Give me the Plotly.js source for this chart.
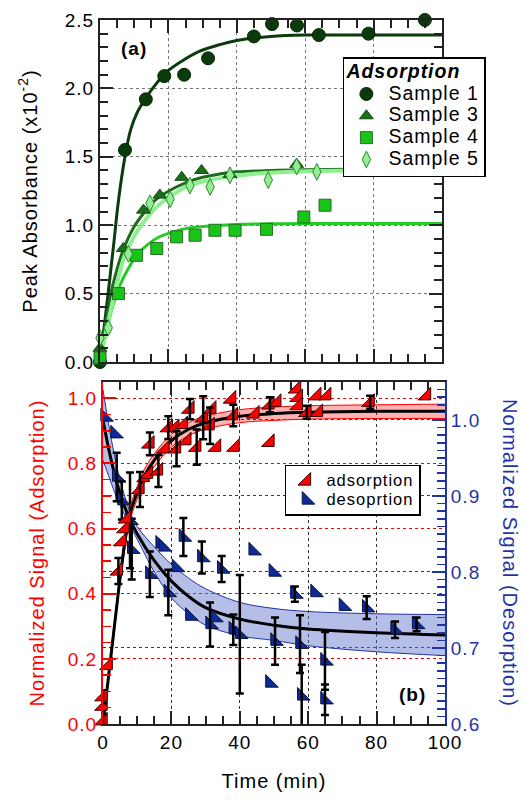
<!DOCTYPE html>
<html><head><meta charset="utf-8">
<script src="https://cdn.plot.ly/plotly-3.0.1.min.js"></script>
<style>html,body{margin:0;padding:0;background:#fff} svg text{letter-spacing:1px}</style>
</head><body><div id="chart" style="width:524px;height:801px"></div>
<script>
// ---------- Panel (a): peak absorbance (x10^-2) ----------
const s1Time = [0, 7.3, 13.4, 18.8, 24.6, 31.6, 45, 50.3, 57.6, 64, 78.5, 95];
const s1Abs  = [0.0, 1.55, 1.92, 2.09, 2.10, 2.22, 2.38, 2.47, 2.46, 2.39, 2.40, 2.50];
const s3Time = [0, 6.8, 12.7, 17.5, 23.9, 29.7, 38, 57.5];
const s3Abs  = [0.1, 0.83, 1.11, 1.22, 1.35, 1.40, 1.37, 1.445];
const s4Time = [0, 5.4, 10.7, 16.6, 22.4, 27.8, 33.6, 39.5, 48.7, 59.6, 65.8];
const s4Abs  = [0.03, 0.50, 0.78, 0.83, 0.915, 0.927, 0.963, 0.963, 0.97, 1.06, 1.146];
const s5Time = [0, 2.4, 8.3, 14.6, 20.5, 26.3, 32.2, 38, 49.2, 57.5, 63.4];
const s5Abs  = [0.175, 0.25, 0.79, 1.16, 1.19, 1.29, 1.28, 1.365, 1.33, 1.43, 1.39];

// fitted curves
const s1FitTime = [0, 2, 4, 5.4, 7.3, 9, 11, 13.4, 16, 19.5, 24, 29, 35, 40, 50, 60, 80, 100];
const s1FitAbs  = [0, 0.42, 0.86, 1.18, 1.5, 1.7, 1.83, 1.93, 2.02, 2.12, 2.2, 2.27, 2.32, 2.35, 2.38, 2.39, 2.39, 2.39];
const s3FitTime = [0, 1, 3, 5, 6.8, 10, 12.7, 16, 20.5, 25, 30, 35, 40, 50, 60, 80, 100];
const s3FitAbs  = [0, 0.18, 0.48, 0.68, 0.82, 0.99, 1.085, 1.18, 1.255, 1.31, 1.35, 1.375, 1.39, 1.40, 1.405, 1.41, 1.41];
const s4FitTime = [0, 2, 4, 6, 8, 10.7, 14, 17, 20, 25, 30, 40, 50, 60, 80, 100];
const s4FitAbs  = [0, 0.24, 0.43, 0.57, 0.67, 0.78, 0.86, 0.91, 0.94, 0.975, 0.99, 1.005, 1.01, 1.012, 1.012, 1.012];
const s5FitTime = [0, 2, 4, 6.8, 10, 12.7, 16, 20.5, 26, 32, 38, 47, 60, 80, 100];
const s5FitAbs  = [0, 0.25, 0.47, 0.745, 0.92, 1.02, 1.12, 1.21, 1.29, 1.33, 1.355, 1.38, 1.395, 1.40, 1.40];

// ---------- Panel (b): normalized signals ----------
const adsTime   = [0, 0, 0, 1.5, 4.5, 5.5, 6.4, 6.9, 10.8, 12.3, 13.3, 13.7, 16.2, 18.1, 19.1, 21, 21.5, 23.5, 24.5, 25.4, 27.4, 29.3, 31.3, 31.8, 33.2, 37.6, 38.1, 38.6, 44.4, 48.8, 48.8, 50.8, 56.6, 57.1, 57.1, 59.6, 62.5, 63, 65.4, 78.1, 94.6];
const adsSignal = [0.01, 0.055, 0.084, 0.18, 0.47, 0.56, 0.60, 0.63, 0.72, 0.757, 0.767, 0.86, 0.777, 0.845, 0.91, 0.91, 0.845, 0.92, 0.87, 0.967, 0.85, 0.94, 0.916, 0.967, 0.85, 0.998, 0.947, 0.85, 0.952, 0.865, 0.98, 0.988, 1.029, 1.003, 0.978, 0.957, 1.008, 0.957, 1.008, 0.988, 1.008];
const adsErr    = [0.02, 0, 0.02, 0, 0.04, 0, 0, 0, 0.054, 0, 0, 0.035, 0.049, 0, 0.035, 0, 0.054, 0, 0, 0.031, 0.054, 0.066, 0.056, 0, 0, 0, 0.033, 0, 0, 0, 0.023, 0, 0, 0, 0, 0.02, 0, 0, 0, 0.02, 0];

const desTime   = [0.6, 3.5, 4, 5.5, 7.9, 8.4, 13.7, 16.7, 17.6, 19.1, 21.5, 23.5, 25.4, 28.9, 31.3, 32.7, 34.7, 38.1, 40, 43.9, 48.8, 49.8, 50.3, 56.1, 57.6, 58.1, 62, 64.9, 64.9, 70.3, 77.1, 85.4, 91.7];
const desSignal = [1.004, 0.982, 0.925, 0.894, 0.868, 0.83, 0.797, 0.837, 0.833, 0.773, 0.806, 0.846, 0.742, 0.819, 0.731, 0.74, 0.804, 0.724, 0.718, 0.828, 0.654, 0.80, 0.709, 0.771, 0.705, 0.637, 0.773, 0.683, 0.632, 0.755, 0.753, 0.724, 0.731];
const desErr    = [0, 0, 0.032, 0.025, 0.063, 0.04, 0.03, 0, 0, 0.03, 0, 0.025, 0, 0.021, 0.029, 0, 0.017, 0.02, 0.078, 0, 0, 0, 0.031, 0.01, 0.038, 0.041, 0, 0.038, 0.02, 0, 0.015, 0.011, 0.009];

const adsFitTime = [0, 1, 2, 3, 4, 5, 6, 7, 8, 10, 12, 15, 20, 25, 30, 40, 50, 60, 80, 100];
const adsFit     = [0, 0.09, 0.18, 0.27, 0.36, 0.45, 0.53, 0.6, 0.65, 0.71, 0.76, 0.81, 0.87, 0.905, 0.925, 0.945, 0.953, 0.957, 0.96, 0.96];
const adsUpper   = [0.01, 0.1, 0.19, 0.285, 0.375, 0.465, 0.55, 0.62, 0.67, 0.73, 0.78, 0.83, 0.89, 0.925, 0.945, 0.965, 0.973, 0.977, 0.98, 0.982];
const adsLower   = [0, 0.08, 0.17, 0.255, 0.345, 0.435, 0.51, 0.58, 0.63, 0.69, 0.74, 0.79, 0.85, 0.885, 0.905, 0.925, 0.932, 0.936, 0.938, 0.938];

const desFitTime = [0, 2, 4, 6, 8, 10, 15, 20, 25, 30, 40, 50, 60, 80, 100];
const desFit     = [1.0, 0.955, 0.918, 0.89, 0.868, 0.85, 0.815, 0.788, 0.768, 0.753, 0.738, 0.73, 0.725, 0.72, 0.717];
const desUpper   = [1.04, 0.985, 0.94, 0.905, 0.878, 0.86, 0.833, 0.81, 0.792, 0.778, 0.76, 0.752, 0.748, 0.745, 0.744];
const desLower   = [0.947, 0.922, 0.898, 0.878, 0.86, 0.843, 0.8, 0.766, 0.745, 0.73, 0.716, 0.71, 0.703, 0.695, 0.69];

// ---------- styles ----------
const C1 = '#0b3b0b', C3 = '#1b6d1b', C4 = '#19c419', C4L = '#22cc22', C5 = '#93ee93', C5L = '#8fef8f';
const RED = '#ff0000', BLUE = '#1f33a6', DBLUE = '#0d2a96';
const FONT = 'Arial, "Liberation Sans", sans-serif';

function pick(x, y, e) {
  const o = {x: [], y: [], e: []};
  for (let i = 0; i < x.length; i++) if (e[i] > 0) { o.x.push(x[i]); o.y.push(y[i]); o.e.push(e[i]); }
  return o;
}
function fitLine(x, y, color, width, xa, ya) {
  return {x: x, y: y, type: 'scatter', mode: 'lines', line: {color: color, width: width, shape: 'spline', smoothing: 1},
          xaxis: xa, yaxis: ya, showlegend: false, hoverinfo: 'skip'};
}
function lgName(t, px) { return '<span style="font-size:' + px + 'px">' + t + '</span>'; }

const traces = [];
// panel (a) curves
traces.push(fitLine(s1FitTime, s1FitAbs, C1, 3, 'x', 'y'));
traces.push(fitLine(s3FitTime, s3FitAbs, C3, 3, 'x', 'y'));
traces.push(fitLine(s4FitTime, s4FitAbs, C4L, 3, 'x', 'y'));
traces.push(fitLine(s5FitTime, s5FitAbs, C5L, 4, 'x', 'y'));
// panel (a) markers
const mk = (x, y, name, sym, size, fill, edge) => ({x: x, y: y, type: 'scatter', mode: 'markers', name: lgName(name, 19.5),
  marker: {symbol: sym, size: size, color: fill, line: {color: edge, width: 1}}, xaxis: 'x', yaxis: 'y', cliponaxis: false, legend: 'legend'});
traces.push(mk(s1Time, s1Abs, 'Sample 1', 'circle', 13, C1, '#062806'));
traces.push(mk(s3Time, s3Abs, 'Sample 3', 'triangle-up', 12, C3, '#124d12'));
traces.push(mk(s4Time, s4Abs, 'Sample 4', 'square', 12, C4, '#2a6a2a'));
traces.push(mk(s5Time, s5Abs, 'Sample 5', 'diamond-tall', 12, C5, '#2a8a2a'));

// panel (b): desorption on base axis y2 (right, blue)
traces.push({x: desFitTime, y: desLower, type: 'scatter', mode: 'lines', line: {color: BLUE, width: 1, shape: 'spline'}, xaxis: 'x2', yaxis: 'y2', showlegend: false, hoverinfo: 'skip'});
traces.push({x: desFitTime, y: desUpper, type: 'scatter', mode: 'lines', fill: 'tonexty', fillcolor: 'rgba(90,110,200,0.45)', line: {color: BLUE, width: 1, shape: 'spline'}, xaxis: 'x2', yaxis: 'y2', showlegend: false, hoverinfo: 'skip'});
traces.push(fitLine(desFitTime, desFit, '#000', 3, 'x2', 'y2'));
traces.push({x: desTime, y: desSignal, type: 'scatter', mode: 'markers', name: lgName('desoprtion', 16.5), legend: 'legend2', legendrank: 2,
  marker: {symbol: 'triangle-sw', size: 14, color: DBLUE, line: {color: '#0a1540', width: 1}}, xaxis: 'x2', yaxis: 'y2', cliponaxis: false});
const dE = pick(desTime, desSignal, desErr);
traces.push({x: dE.x, y: dE.y, type: 'scatter', mode: 'markers', marker: {size: 1, color: 'rgba(0,0,0,0)'},
  error_y: {type: 'data', array: dE.e, visible: true, color: '#000', thickness: 2.5, width: 4}, xaxis: 'x2', yaxis: 'y2', showlegend: false, hoverinfo: 'skip'});

// panel (b): adsorption on overlay axis y3 (left, red)
traces.push({x: adsFitTime, y: adsLower, type: 'scatter', mode: 'lines', line: {color: RED, width: 1, shape: 'spline'}, xaxis: 'x2', yaxis: 'y3', showlegend: false, hoverinfo: 'skip'});
traces.push({x: adsFitTime, y: adsUpper, type: 'scatter', mode: 'lines', fill: 'tonexty', fillcolor: 'rgba(255,0,0,0.3)', line: {color: RED, width: 1, shape: 'spline'}, xaxis: 'x2', yaxis: 'y3', showlegend: false, hoverinfo: 'skip'});
traces.push(fitLine(adsFitTime, adsFit, '#000', 3, 'x2', 'y3'));
traces.push({x: adsTime, y: adsSignal, type: 'scatter', mode: 'markers', name: lgName('adsorption', 16.5), legend: 'legend2', legendrank: 1,
  marker: {symbol: 'triangle-se', size: 14, color: RED, line: {color: '#3a0000', width: 1}}, xaxis: 'x2', yaxis: 'y3', cliponaxis: false});
const aE = pick(adsTime, adsSignal, adsErr);
traces.push({x: aE.x, y: aE.y, type: 'scatter', mode: 'markers', marker: {size: 1, color: 'rgba(0,0,0,0)'},
  error_y: {type: 'data', array: aE.e, visible: true, color: '#000', thickness: 2.5, width: 4}, xaxis: 'x2', yaxis: 'y3', showlegend: false, hoverinfo: 'skip'});

const K = '#222';
const baseAx = {ticks: 'inside', ticklen: 13, tickwidth: 2, showline: true, linewidth: 2, zeroline: false,
  showgrid: true, griddash: 'dot', gridwidth: 1, tickfont: {size: 19}};

const layout = {
  width: 524, height: 801,
  margin: {l: 100, r: 79, t: 20, b: 77},
  paper_bgcolor: '#fff', plot_bgcolor: '#fff',
  font: {family: FONT, size: 19, color: '#000'},
  showlegend: true,
  xaxis: Object.assign({}, baseAx, {domain: [0, 0.9913], range: [0, 100], anchor: 'y', dtick: 20, showticklabels: false,
    tickcolor: K, linecolor: K, mirror: 'ticks', gridcolor: '#777',
    minor: {dtick: 5, ticks: 'inside', ticklen: 8, tickwidth: 2, tickcolor: K}}),
  yaxis: Object.assign({}, baseAx, {domain: [0.5142, 1], range: [0, 2.5], anchor: 'x', dtick: 0.5, tickformat: '.1f',
    tickcolor: K, linecolor: K, mirror: 'ticks', gridcolor: '#777',
    minor: {dtick: 0.1, ticks: 'inside', ticklen: 8, tickwidth: 2, tickcolor: K},
    title: {text: 'Peak Absorbance (x10<sup>-2</sup>)', font: {size: 20}, standoff: 22}}),
  xaxis2: Object.assign({}, baseAx, {domain: [0.0087, 1], range: [0, 100], anchor: 'y2', dtick: 20,
    tickcolor: K, linecolor: K, mirror: 'ticks', gridcolor: '#333',
    minor: {dtick: 5, ticks: 'inside', ticklen: 8, tickwidth: 2, tickcolor: K},
    title: {text: 'Time (min)', font: {size: 20}, standoff: 22}}),
  yaxis2: Object.assign({}, baseAx, {domain: [0, 0.4858], range: [0.6, 1.05], anchor: 'x2', side: 'right', dtick: 0.1, tickformat: '.1f',
    tickcolor: BLUE, linecolor: BLUE, gridcolor: BLUE, tickfont: {size: 19, color: BLUE},
    minor: {dtick: 0.01, ticks: 'inside', ticklen: 8, tickwidth: 1.5, tickcolor: BLUE}}),
  yaxis3: Object.assign({}, baseAx, {overlaying: 'y2', side: 'left', range: [0, 1.05], anchor: 'x2', dtick: 0.2, tickformat: '.1f',
    tickcolor: RED, linecolor: RED, gridcolor: RED, tickfont: {size: 19, color: RED},
    minor: {dtick: 0.05, ticks: 'inside', ticklen: 8, tickwidth: 1.5, tickcolor: RED},
    title: {text: 'Normalized Signal (Adsorption)', font: {size: 20, color: RED}, standoff: 18}}),
  legend: {x: 0.704, y: 0.9474, xanchor: 'left', yanchor: 'top', bgcolor: '#fff', bordercolor: '#000', borderwidth: 1.5,
    font: {size: 14.5, family: FONT}, itemwidth: 34, tracegroupgap: 0, traceorder: 'normal',
    title: {text: '<span style="font-size:19.5px"><b><i>Adsorption</i></b></span>', font: {size: 15, family: FONT}}},
  legend2: {x: 0.536, y: 0.368, xanchor: 'left', yanchor: 'top', bgcolor: '#fff', bordercolor: '#000', borderwidth: 1.5,
    font: {size: 12.3, family: FONT}, itemwidth: 30, tracegroupgap: 0, traceorder: 'normal'},
  annotations: [
    {text: '<b>(a)</b>', xref: 'paper', yref: 'paper', x: 0.0986, y: 0.960, xanchor: 'center', yanchor: 'middle', showarrow: false, font: {size: 19}},
    {text: '<b>(b)</b>', xref: 'paper', yref: 'paper', x: 0.907, y: 0.0426, xanchor: 'center', yanchor: 'middle', showarrow: false, font: {size: 19}},
    {text: 'Normalized Signal (Desorption)', xref: 'paper', yref: 'paper', x: 1.188, y: 0.243, textangle: 90,
     xanchor: 'center', yanchor: 'middle', showarrow: false, font: {size: 20, color: BLUE}}
  ]
};

Plotly.newPlot('chart', traces, layout, {displayModeBar: false, staticPlot: true});
</script></body></html>
